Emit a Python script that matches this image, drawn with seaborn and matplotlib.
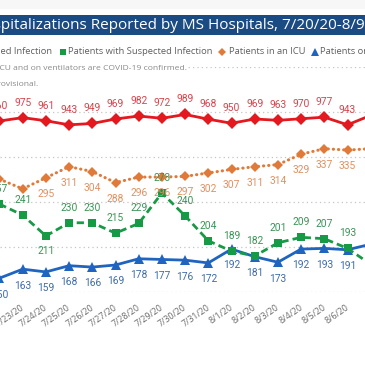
import numpy as np
import pandas as pd
import matplotlib
matplotlib.use("Agg")
import matplotlib.pyplot as plt
import matplotlib.transforms as mtransforms
from matplotlib.lines import Line2D
from matplotlib.patches import Rectangle
from matplotlib import font_manager
import seaborn as sns

# ---------------- data (visible window of the chart) ----------------
dates = ["7/22/20", "7/23/20", "7/24/20", "7/25/20", "7/26/20", "7/27/20", "7/28/20",
         "7/29/20", "7/30/20", "7/31/20", "8/1/20", "8/2/20", "8/3/20", "8/4/20",
         "8/5/20", "8/6/20", "8/7/20"]
confirmed = [960, 975, 961, 943, 949, 969, 982, 972, 989, 968, 950, 969, 963, 970, 977, 943, 985]
suspected = [257, 241, 211, 230, 230, 215, 229, 273, 240, 204, 189, 182, 201, 209, 207, 193, 170]
icu = [293, 279, 295, 311, 304, 288, 296, 296, 297, 302, 307, 311, 314, 329, 337, 335, 337]
vent = [150, 163, 159, 168, 166, 169, 178, 177, 176, 172, 192, 181, 173, 192, 193, 191, 199]

title_text = "COVID-19 Hospitalizations Reported by MS Hospitals, 7/20/20-8/9/20"
legend_labels = ["Patients with Confirmed Infection", "Patients with Suspected Infection",
                 "Patients in an ICU", "Patients on Ventilators"]
note_text = "*Patients in an ICU and on ventilators are COVID-19 confirmed."
prov_text = "Recent data are provisional."

# label placement (style only)
susp_below = {2}
icu_hidden = {0, 1}
edge_hidden = {16}

RED, RED_L = "#E3191F", "#D8434C"
ORANGE, ORANGE_L = "#E07A3A", "#E2905F"
GREEN, GREEN_L = "#179A45", "#3A9457"
BLUE, BLUE_L = "#1F64BF", "#3F6CA8"
NAVY = "#1B4B83"

sns.set_theme(style="white")
avail = {f.name for f in font_manager.fontManager.ttflist}
ui_font = "Open Sans" if "Open Sans" in avail else "DejaVu Sans"
num_font = "Liberation Sans Narrow" if "Liberation Sans Narrow" in avail else (
    "Roboto" if "Roboto" in avail else "DejaVu Sans")
plt.rcParams["font.family"] = [ui_font, "DejaVu Sans"]

W = H = 365
fig = plt.figure(figsize=(3.65, 3.65), dpi=100, facecolor="white")
renderer = fig.canvas.get_renderer()


def fy(px):
    return 1 - px / H


def fx(px):
    return px / W


def text_w(s, **kw):
    t = fig.text(0, 0, s, **kw)
    w = t.get_window_extent(renderer).width
    t.remove()
    return w


# ---------------- axes ----------------
ax = fig.add_axes([0, fy(292), 1, fy(67) - fy(292)])
ax2 = ax.twinx()

df = pd.DataFrame({"date": dates, "confirmed": confirmed, "suspected": suspected,
                   "icu": icu, "vent": vent})

sns.lineplot(data=df, x="date", y="vent", ax=ax, sort=False, color=BLUE,
             linewidth=2.0, marker="^", markersize=6.5, markeredgewidth=0)
sns.lineplot(data=df, x="date", y="suspected", ax=ax, sort=False, color=GREEN,
             linewidth=2.0, linestyle=(0, (2.6, 1.5)), marker="s", markersize=5.2,
             markeredgewidth=0)
sns.lineplot(data=df, x="date", y="icu", ax=ax, sort=False, color=ORANGE,
             linewidth=2.2, linestyle=(0, (0.1, 1.6)), dash_capstyle="round",
             marker="D", markersize=5.5, markeredgewidth=0)
sns.lineplot(data=df, x="date", y="confirmed", ax=ax2, sort=False, color=RED,
             linewidth=2.0, marker="D", markersize=6.3, markeredgewidth=0)

ax.set_ylim(130, 455)
ax.set_yticks(np.arange(130, 456, 65))
ax2.set_ylim(200, 1200)
ax2.set_yticks([])
ax.grid(axis="y", linestyle=(0, (1, 2.5)), color="#c4c4c4", linewidth=0.9)
ax.grid(axis="x", visible=False)
ax.set_axisbelow(True)
for a in (ax, ax2):
    for s in a.spines.values():
        s.set_visible(False)
    a.set_ylabel("")
    a.set_xlabel("")
ax.tick_params(axis="y", left=False, labelleft=False, length=0)
ax2.tick_params(axis="y", right=False, labelright=False, length=0)
ax.set_facecolor("none")

ax.set_xticks(range(len(dates)))
ax.set_xticklabels(dates, rotation=35, ha="right", va="top", rotation_mode="anchor",
                   fontsize=6.4, color="#6c6c6c")
ax.tick_params(axis="x", length=0, pad=8)
shift = mtransforms.ScaledTranslation(-2 / 100, 0, fig.dpi_scale_trans)
for lbl in ax.get_xticklabels():
    lbl.set_transform(lbl.get_transform() + shift)
ax.set_xlim(0.0216, 15.754)

# ---------------- data labels ----------------
lab_kw = dict(textcoords="offset points", ha="center", va="center", fontsize=7.4,
              family=[num_font, "DejaVu Sans"], annotation_clip=False)
for i, v in enumerate(confirmed):
    if i in edge_hidden:
        continue
    ax2.annotate(str(v), xy=(i, v), xytext=(0, 10.8), color=RED_L, **lab_kw)
for i, v in enumerate(icu):
    if i in icu_hidden or i in edge_hidden:
        continue
    ax.annotate(str(v), xy=(i, v), xytext=(0, -11.5), color=ORANGE_L, **lab_kw)
for i, v in enumerate(suspected):
    if i in edge_hidden:
        continue
    off = -10.8 if i in susp_below else 10.8
    ax.annotate(str(v), xy=(i, v), xytext=(0, off), color=GREEN_L, **lab_kw)
for i, v in enumerate(vent):
    if i in edge_hidden:
        continue
    ax.annotate(str(v), xy=(i, v), xytext=(0, -11.8), color=BLUE_L, **lab_kw)

# ---------------- header band, title ----------------
fig.patches.append(Rectangle((0, fy(9)), 1, fy(0) - fy(9), transform=fig.transFigure,
                             facecolor="#f7f7f7", edgecolor="none", zorder=0))
fig.patches.append(Rectangle((0, fy(35)), 1, fy(15) - fy(35), transform=fig.transFigure,
                             facecolor=NAVY, edgecolor="none", zorder=0))
vis_title = "pitalizations Reported by MS Hospitals, 7/20/20-8/9"
tfs = 10 * 363 / text_w(vis_title, fontsize=10)
tx = 0.5 - text_w("COVID-19 Hos", fontsize=tfs)
fig.text(fx(tx), fy(25.5), title_text, fontsize=tfs, color="white", ha="left", va="center")

# ---------------- legend ----------------
lfs = 10 * 145 / text_w("Patients with Suspected Infection", fontsize=10)
leg_y = fy(52)
lx0 = 0.7 - text_w("Patients with Confirm", fontsize=lfs)
legend_items = [
    (lx0 - 7, lx0, RED, "D", 6),
    (63, 68, GREEN, "s", 6.5),
    (222, 229, ORANGE, "D", 6),
    (314.5, 319.5, BLUE, "^", 7.5),
]
for (mx, tx_, col, mk, ms), lab in zip(legend_items, legend_labels):
    fig.add_artist(Line2D([fx(mx)], [leg_y], marker=mk, color=col, markersize=ms * 0.72,
                          markeredgewidth=0, linestyle="none", transform=fig.transFigure))
    fig.text(fx(tx_), leg_y, lab, fontsize=lfs, color="#5f5f5f", ha="left", va="center")

# ---------------- notes ----------------
vis_note = "CU and on ventilators are COVID-19 confirmed."
nfs = 10 * 185 / text_w(vis_note, fontsize=10)
nx = -0.5 - text_w("*Patients in an I", fontsize=nfs)
fig.text(fx(nx), fy(68), note_text, fontsize=nfs, color="#8a8a8a", ha="left", va="center",
         bbox=dict(facecolor="white", edgecolor="none", pad=1.0))
px_ = 0.7 - text_w("Recent data are pr", fontsize=nfs)
fig.text(fx(px_), fy(84.5), prov_text, fontsize=nfs, color="#8a8a8a", ha="left", va="center")

fig.savefig("out.png", dpi=100, facecolor="white")
